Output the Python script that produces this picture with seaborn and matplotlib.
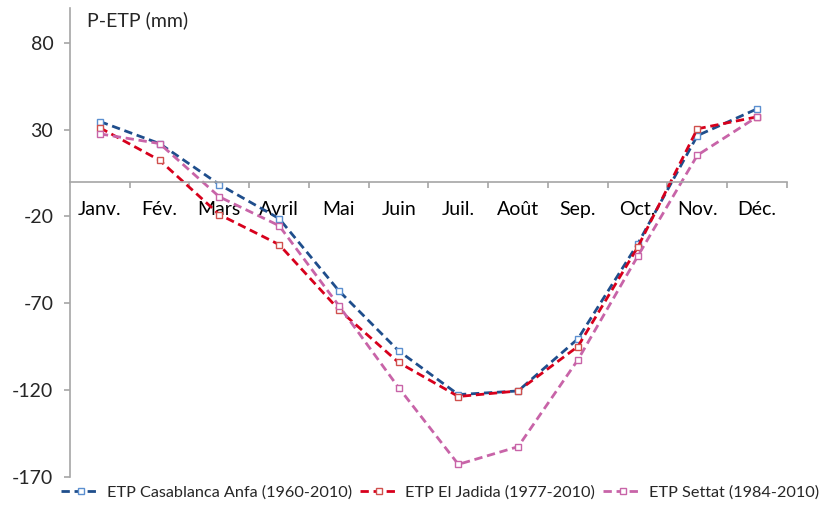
import numpy as np
import pandas as pd
import matplotlib
matplotlib.use("Agg")
import matplotlib.pyplot as plt
import seaborn as sns
from matplotlib.ticker import FixedLocator

months = ["Janv.", "Fév.", "Mars", "Avril", "Mai", "Juin", "Juil.", "Août", "Sep.", "Oct.", "Nov.", "Déc."]
casablanca = [34.6, 21.9, -1.7, -21.3, -62.9, -97.5, -122.7, -120.6, -90.6, -36.0, 26.5, 41.9]
el_jadida = [31.0, 12.3, -19.0, -36.3, -73.8, -104.2, -123.8, -120.6, -95.0, -37.9, 30.4, 37.3]
settat = [27.5, 21.9, -8.8, -25.4, -71.5, -118.7, -162.9, -152.7, -102.7, -43.1, 15.2, 37.3]
series_names = ["ETP Casablanca Anfa (1960-2010)", "ETP El Jadida (1977-2010)", "ETP Settat (1984-2010)"]
y_ticks = [80, 30, -20, -70, -120, -170]

line_colors = ["#1F4E8C", "#D7001C", "#C864A8"]
marker_colors = ["#5B8FD0", "#D0504D", "#C864A8"]

sns.set_style("white")
plt.rcParams["font.family"] = ["Lato", "DejaVu Sans"]

fig = plt.figure(figsize=(8.27, 5.05), dpi=100)
ax = fig.add_axes([70 / 827, 1 - 476.7 / 505, (787 - 70) / 827, (476.7 - 8) / 505])

pos = np.arange(len(months))
for vals, name, lc, mc in zip([casablanca, el_jadida, settat], series_names, line_colors, marker_colors):
    df = pd.DataFrame({"pos": pos, "val": vals})
    sns.lineplot(data=df, x="pos", y="val", ax=ax, color=lc, linestyle=(0, (3.0, 1.7)),
                 linewidth=2.0, marker="s", markersize=4, markerfacecolor="white",
                 markeredgecolor=mc, markeredgewidth=1.0, sort=False, label=name)

ax.set_xlim(-0.5, 11.5)
ax.set_ylim(-170, 100)
ax.set_xlabel("")
ax.set_ylabel("")

for s in ["top", "right"]:
    ax.spines[s].set_visible(False)
ax.spines["bottom"].set_position(("data", 0))
for s in ["left", "bottom"]:
    ax.spines[s].set_color("#A6A6A6")
    ax.spines[s].set_linewidth(1.2)

ax.set_xticks(pos)
ax.set_xticklabels(months, fontsize=14)
ax.xaxis.set_minor_locator(FixedLocator(np.arange(0.5, 12, 1.0)))
ax.tick_params(axis="x", which="major", length=0, pad=14, colors="black")
ax.tick_params(axis="x", which="minor", bottom=True, length=4, width=1.2, color="#A6A6A6", direction="out")
ax.set_yticks(y_ticks)
ax.set_yticklabels([str(v) for v in y_ticks], fontsize=14)
ax.tick_params(axis="y", left=True, length=4, width=1.2, color="#A6A6A6", pad=8, direction="out")
ax.grid(False)

ax.text(17 / 717, 1 - (20 - 8) / 468.7, "P-ETP (mm)", transform=ax.transAxes,
        fontsize=14, va="center", ha="left")

ax.legend(loc="center", bbox_to_anchor=(0.532, 0.024), bbox_transform=fig.transFigure,
          ncol=3, frameon=False, fontsize=11.7, handlelength=2.4, columnspacing=0.5,
          handletextpad=0.4, borderpad=0.1)

fig.savefig("out.png", dpi=100)
